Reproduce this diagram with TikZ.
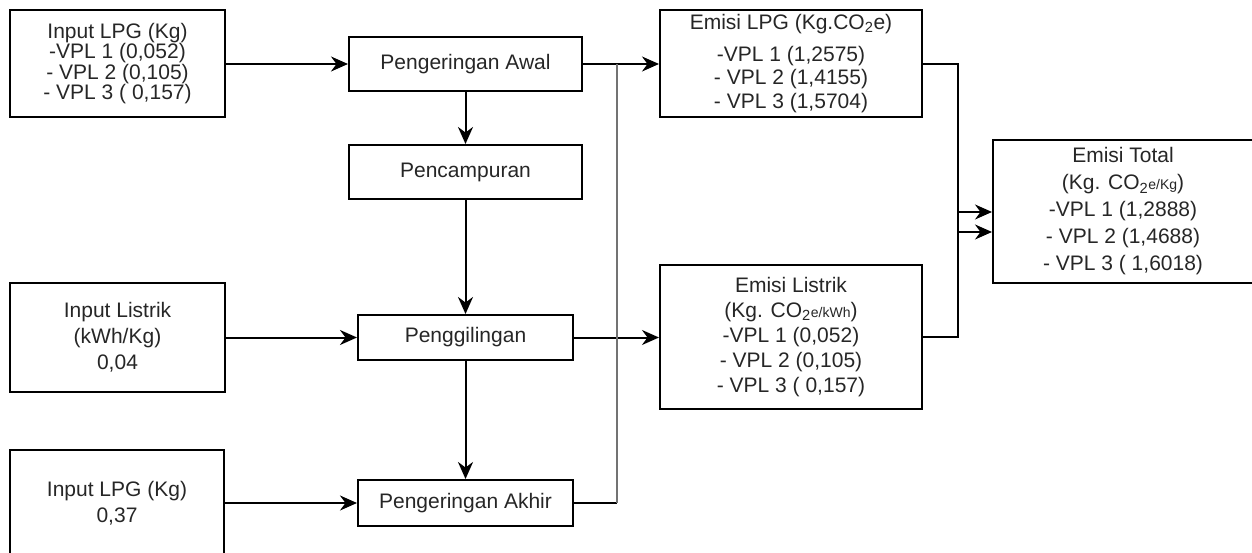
\documentclass[tikz,border=0pt]{standalone}
\usepackage{fontspec}
\setmainfont{Liberation Sans}
\usetikzlibrary{arrows.meta}

\begin{document}
\begin{tikzpicture}[x=1pt,y=-1pt,
    kotak/.style={draw,line width=2pt,align=center,inner sep=0pt,text=black!85,font=\fontsize{21}{26}\selectfont},
    panah/.style={-{Stealth[length=17pt,width=15pt]},line width=2pt},
    garis/.style={line width=2pt}]
    \useasboundingbox (0,0) rectangle (1252,553);
    \node[kotak,minimum width=215pt,minimum height=107pt,font=\fontsize{21}{19.5}\selectfont] (inlpg) at (117.5,63.5) {Input LPG (Kg)\\-VPL 1 (0,052)\\- VPL 2 (0,105)\\- VPL 3 ( 0,157)};
    \node[kotak,minimum width=215pt,minimum height=109pt] (inlistrik) at (117.5,337.5) {Input Listrik\\(kWh/Kg)\\0,04};
    \node[kotak,minimum width=214pt,minimum height=106pt] (inlpgb) at (117,503) {Input LPG (Kg)\\0,37};
    \node[kotak,minimum width=233pt,minimum height=54pt] (awal) at (465.5,64) {Pengeringan Awal};
    \node[kotak,minimum width=233pt,minimum height=54pt] (campur) at (465.5,172) {Pencampuran};
    \node[kotak,minimum width=215pt,minimum height=45pt] (giling) at (465.5,337.5) {Penggilingan};
    \node[kotak,minimum width=215pt,minimum height=46pt] (akhir) at (465.5,503) {Pengeringan Akhir};
    \node[kotak,minimum width=262pt,minimum height=107pt,font=\fontsize{21}{23.5}\selectfont] (emlpg) at (791,63.5) {Emisi LPG (Kg.CO\textsubscript{2}e)\\[8pt]-VPL 1 (1,2575)\\- VPL 2 (1,4155)\\- VPL 3 (1,5704)};
    \node[kotak,minimum width=262pt,minimum height=144pt,font=\fontsize{21}{25}\selectfont] (emlistrik) at (791,337) {Emisi Listrik\\(Kg. CO\textsubscript{2}{\fontsize{14}{14}\selectfont e/kWh})\\-VPL 1 (0,052)\\- VPL 2 (0,105)\\- VPL 3 ( 0,157)};
    \node[kotak,minimum width=260pt,minimum height=143pt,font=\fontsize{21}{27}\selectfont] (total) at (1123,211.5) {Emisi Total\\(Kg. CO\textsubscript{2}{\fontsize{14}{14}\selectfont e/Kg})\\-VPL 1 (1,2888)\\- VPL 2 (1,4688)\\- VPL 3 ( 1,6018)};
    \coordinate (jn) at (617,64);
    \coordinate (sudut) at (617,503);
    \coordinate (t1) at (957,212);
    \coordinate (t2) at (957,232);
    \draw[panah] (inlpg.east |- awal) -- (awal.west);
    \draw[panah] (inlistrik.east) -- (giling.west);
    \draw[panah] (inlpgb.east) -- (akhir.west);
    \draw[panah] (awal.south) -- (campur.north);
    \draw[panah] (campur.south) -- (giling.north);
    \draw[panah] (giling.south) -- (akhir.north);
    \draw[panah] (awal.east) -- (emlpg.west |- awal);
    \draw[panah] (giling.east) -- (emlistrik.west |- giling);
    \draw[garis] (akhir.east) -- (sudut);
    \draw[garis,black!55] (sudut) -- (jn);
    \draw[garis] (emlpg.east |- awal) -- ++(35,0) |- (emlistrik.east);
    \draw[panah] (t1) -- (t1 -| total.west);
    \draw[panah] (t2) -- (t2 -| total.west);
\end{tikzpicture}
\end{document}
